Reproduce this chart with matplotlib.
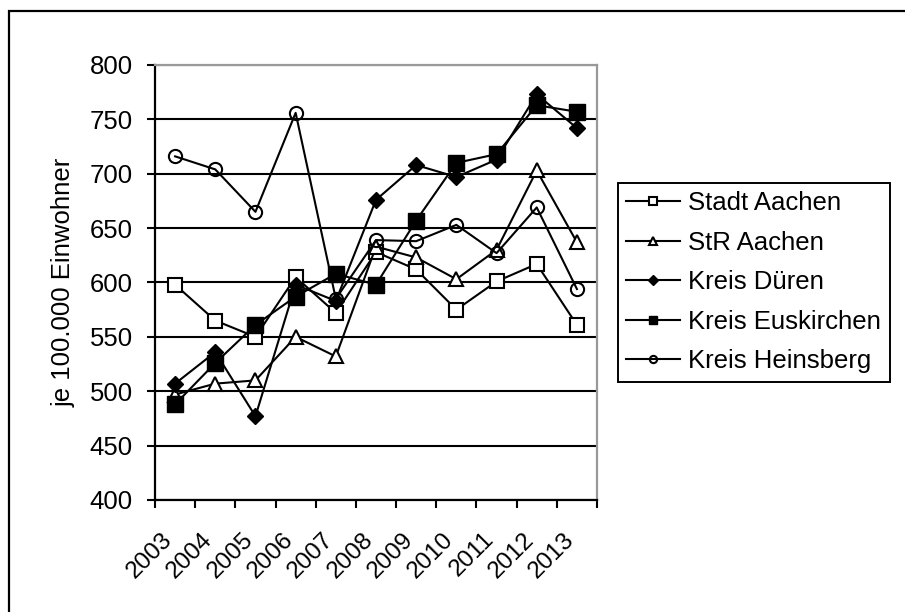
import matplotlib
matplotlib.use("Agg")
import matplotlib.pyplot as plt
from matplotlib.patches import Rectangle
from matplotlib.ticker import FixedLocator, NullFormatter
from matplotlib.transforms import ScaledTranslation, blended_transform_factory

years = ["2003", "2004", "2005", "2006", "2007", "2008", "2009", "2010", "2011", "2012", "2013"]
stadt_aachen = [598, 565, 550, 605, 572, 628, 612, 575, 601, 617, 561]
str_aachen = [497, 507, 510, 550, 532, 633, 623, 603, 630, 703, 637]
kreis_dueren = [507, 536, 477, 598, 583, 676, 708, 697, 713, 773, 742]
kreis_euskirchen = [488, 526, 561, 587, 608, 598, 657, 710, 718, 763, 757]
kreis_heinsberg = [716, 704, 665, 756, 585, 639, 638, 653, 627, 669, 594]

W, H = 905, 612
FS = 18.5
plt.rcParams['font.family'] = ['Liberation Sans', 'DejaVu Sans']
fig = plt.figure(figsize=(W / 100, H / 100), dpi=100)

# outer frame
fig.patches.append(Rectangle((9 / W, -0.1), 2.0, 1 - 11 / H + 0.1, transform=fig.transFigure,
                             fill=False, edgecolor='black', linewidth=1.6, zorder=0))

ax = fig.add_axes([155 / W, 112 / H, 442 / W, 435 / H])
x = list(range(len(years)))
lw = 1.5
ax.plot(x, stadt_aachen, color='black', lw=lw, marker='s', ms=9.5, mfc='white', mec='black', mew=1.5, label='Stadt Aachen', zorder=3)
ax.plot(x, str_aachen, color='black', lw=lw, marker='^', ms=10, mfc='white', mec='black', mew=1.5, label='StR Aachen', zorder=3)
ax.plot(x, kreis_dueren, color='black', lw=lw, marker='D', ms=8.5, mfc='black', mec='black', label='Kreis Düren', zorder=3)
ax.plot(x, kreis_euskirchen, color='black', lw=lw, marker='s', ms=11.5, mfc='black', mec='black', label='Kreis Euskirchen', zorder=3)
ax.plot(x, kreis_heinsberg, color='black', lw=lw, marker='o', ms=9.5, mfc='none', mec='black', mew=1.5, label='Kreis Heinsberg', zorder=3)

ax.set_xlim(-0.5, len(years) - 0.5)
ax.set_ylim(400, 800)
ax.set_yticks(range(400, 801, 50))
ax.yaxis.grid(True, color='black', linewidth=1.5)
ax.set_axisbelow(True)

# category labels (rotated), ticks at category boundaries
ax.set_xticks([])
ax.xaxis.set_minor_locator(FixedLocator([i - 0.5 for i in range(len(years) + 1)]))
ax.xaxis.set_minor_formatter(NullFormatter())
ax.tick_params(axis='x', which='minor', length=6, width=1.5, direction='out', color='black')
trans = blended_transform_factory(ax.transData, ax.transAxes) + ScaledTranslation(-6 / 100, -36 / 100, fig.dpi_scale_trans)
for i, yr in enumerate(years):
    ax.text(i, 0, yr, transform=trans, rotation=45, ha='right', va='center',
            rotation_mode='anchor', fontsize=17.5)

ax.tick_params(axis='y', length=6, width=1.5, direction='out', labelsize=FS, pad=10)

for s in ['left', 'bottom']:
    ax.spines[s].set_color('black')
    ax.spines[s].set_linewidth(1.6)
for s in ['top', 'right']:
    ax.spines[s].set_color('#999999')
    ax.spines[s].set_linewidth(1.6)

ax.set_ylabel('je 100.000 Einwohner', fontsize=FS, labelpad=10)

leg = fig.legend(loc='upper left', bbox_to_anchor=(618 / W, 1 - 183 / H), fontsize=FS,
                 frameon=True, fancybox=False, edgecolor='black', framealpha=1,
                 handlelength=2.1, handletextpad=0.3, labelspacing=0.6, markerscale=0.55,
                 borderpad=0.33, borderaxespad=0)
leg.get_frame().set_linewidth(1.4)

fig.savefig('out.png', dpi=100)
